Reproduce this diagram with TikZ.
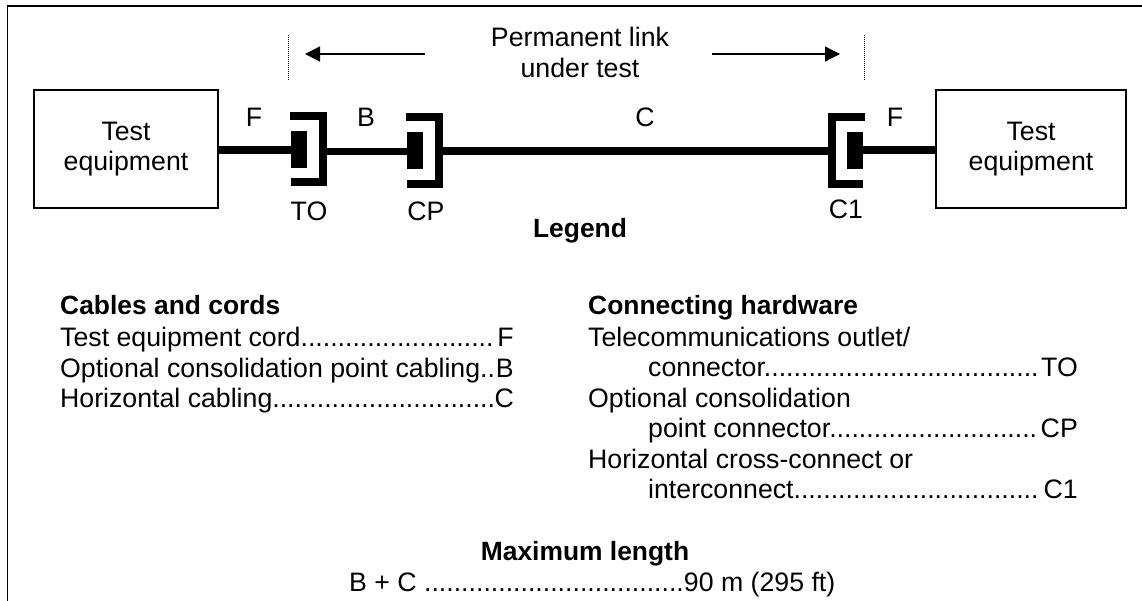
\documentclass[tikz,border=0pt]{standalone}
\usepackage{fontspec}
\setmainfont{Liberation Sans}
\usetikzlibrary{arrows.meta}
\tikzset{
  x=1pt,y=-1pt,
  box/.style={draw,line width=1.3pt,inner sep=0pt,align=center,font=\fontsize{26.7}{30.5}\selectfont},
  lbl/.style={inner sep=0pt,anchor=base west,font=\fontsize{26.7}{30.5}\selectfont},
  rlbl/.style={inner sep=0pt,anchor=base east,font=\fontsize{26.7}{30.5}\selectfont},
  clbl/.style={inner sep=0pt,anchor=base,font=\fontsize{26.7}{30.5}\selectfont},
  bold/.style={font=\fontsize{26.4}{30.5}\selectfont\bfseries},
  heavy/.style={line width=8pt},
  medium/.style={line width=7pt},
  brk/.style={line width=7.5pt,miter limit=10},
  pin/.style={fill=black,draw=none,minimum width=16pt,minimum height=37pt,inner sep=0pt},
  dim/.style={line width=1.2pt,-{Triangle[length=15pt,width=15pt]}},
  limit/.style={line width=1pt,dash pattern=on 1pt off 1pt},
}
\begin{document}
\begin{tikzpicture}
\useasboundingbox (0,0) rectangle (1142,601);
\fill[white] (0,0) rectangle (1142,601);
% frame
\draw[line width=1.5pt] (7.7,601) -- (7.7,6) -- (1142,6);
% boxes
\node[box,minimum width=184pt,minimum height=118pt] (tel) at (126,149) {Test\\equipment};
\node[box,minimum width=190pt,minimum height=118pt] (ter) at (1031,149) {Test\\equipment};
% connector blocks
\node[pin] (to) at (299,149.5) {};
\node[pin] (cp) at (415,151) {};
\node[pin] (co) at (855,151) {};
% brackets
\coordinate (tot) at (290,116); \coordinate (toc) at (323,116); \coordinate (tod) at (323,182); \coordinate (tob) at (291,182);
\coordinate (cpt) at (406,117); \coordinate (cpc) at (439,117); \coordinate (cpd) at (439,184); \coordinate (cpb) at (407,184);
\coordinate (c1t) at (865,117); \coordinate (c1c) at (832,117); \coordinate (c1d) at (832,184); \coordinate (c1b) at (863,184);
\draw[brk] (tot) -- (toc) -- (tod) -- (tob);
\draw[brk] (cpt) -- (cpc) -- (cpd) -- (cpb);
\draw[brk] (c1t) -- (c1c) -- (c1d) -- (c1b);
% cables
\draw[heavy] (tel.east |- 0,150) -- (to.west |- 0,150);
\draw[medium] (toc |- 0,152) -- (cp.west |- 0,152);
\draw[heavy] (cpc |- 0,151) -- (c1c |- 0,151);
\draw[heavy] (co.east |- 0,150) -- (ter.west |- 0,150);
% dimension
\coordinate (dl) at (288,35); \coordinate (dlb) at (288,81);
\coordinate (dr) at (864,35); \coordinate (drb) at (864,81);
\draw[limit] (dl) -- (dlb);
\draw[limit] (dr) -- (drb);
\coordinate (al) at (425,54); \coordinate (alt) at (305,54);
\coordinate (ar) at (712,54); \coordinate (art) at (840,54);
\draw[dim] (al) -- (alt);
\draw[dim] (ar) -- (art);
\node[clbl] (pl1) at (580,47) {Permanent link};
\node[clbl] (pl2) at (580,78) {under test};
% cable and connector labels
\node[clbl] (lf1) at (254,127) {F};
\node[clbl] (lb) at (366,127) {B};
\node[clbl] (lc) at (645,127) {C};
\node[clbl] (lf2) at (895,127) {F};
\node[clbl] (lto) at (309,221) {TO};
\node[clbl] (lcp) at (426,221) {CP};
\node[clbl] (lc1) at (846,219) {C1};
\node[clbl,bold] (leg) at (580,238) {Legend};
% legend left
\node[lbl,bold] (h1) at (60,315) {Cables and cords};
\node[lbl] (l1) at (60,346) {Test equipment cord..........................};
\node[rlbl] (l1e) at (514,346) {F};
\node[lbl] (l2) at (60,377) {Optional consolidation point cabling..};
\node[rlbl] (l2e) at (514,377) {B};
\node[lbl] (l3) at (60,407) {Horizontal cabling..............................};
\node[rlbl] (l3e) at (514,407) {C};
% legend right
\node[lbl,bold] (h2) at (588,315) {Connecting hardware};
\node[lbl] (r1) at (588,346) {Telecommunications outlet/};
\node[lbl] (r2) at (648,376) {connector.....................................};
\node[rlbl] (r2e) at (1078,376) {TO};
\node[lbl] (r3) at (588,407) {Optional consolidation};
\node[lbl] (r4) at (648,437) {point connector............................};
\node[rlbl] (r4e) at (1078,437) {CP};
\node[lbl] (r5) at (588,468) {Horizontal cross-connect or};
\node[lbl] (r6) at (648,498) {interconnect.................................};
\node[rlbl] (r6e) at (1078,498) {C1};
% max length
\node[clbl,bold] (mx) at (585,560) {Maximum length};
\node[lbl] (mv) at (349,591) {B + C ...................................90 m (295 ft)};
\end{tikzpicture}
\end{document}
